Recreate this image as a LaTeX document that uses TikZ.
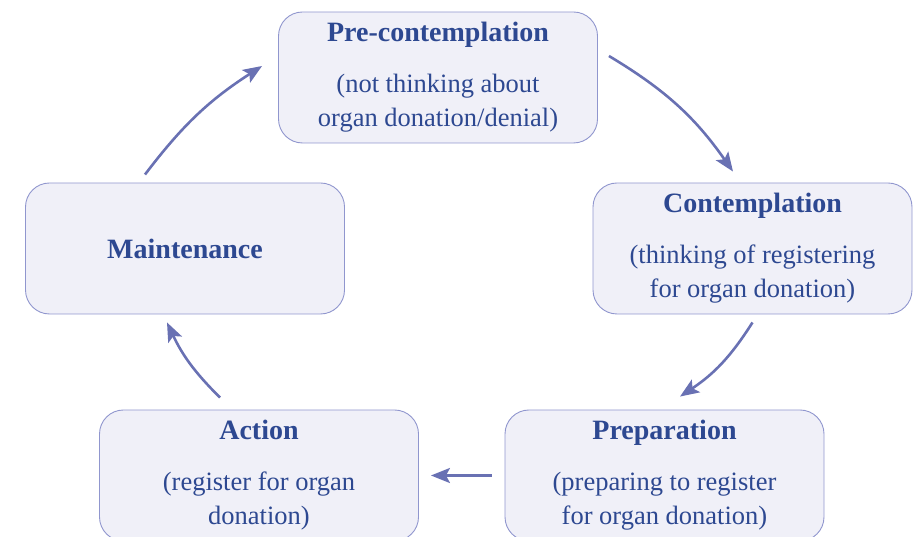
\documentclass[tikz,border=0pt]{standalone}
\usepackage{fontspec}
\setmainfont{Liberation Serif}
\usepackage{xcolor}
\usetikzlibrary{arrows.meta,positioning,calc}

\definecolor{stagetext}{HTML}{2D4891}
\definecolor{stagefill}{HTML}{F0F0F8}
\definecolor{stageline}{HTML}{9096CE}
\definecolor{arrowblue}{HTML}{6971B3}

\newcommand{\stagetitle}[1]{{\fontsize{28}{34}\selectfont\bfseries #1}}

\begin{document}
\begin{tikzpicture}[x=1pt, y=1pt,
    stage/.style={rectangle, draw=stageline, line width=0.9pt, rounded corners=24pt, fill=stagefill,
        minimum width=319pt, minimum height=131pt, text=stagetext, align=center,
        font=\fontsize{26.5}{34}\selectfont},
    arr/.style={-{Stealth[length=19pt, width=15pt, inset=4pt]}, line width=2.6pt, color=arrowblue}
]
    \clip (0,0) rectangle (918,537);
    \useasboundingbox (0,0) rectangle (918,537);

    % five stages, clockwise from the top
    \node[stage] (precon) at (438,459.5)   {\stagetitle{Pre-contemplation}\\[17pt](not thinking about\\organ donation/denial)};
    \node[stage] (contem) at (752.5,288.5) {\stagetitle{Contemplation}\\[17pt](thinking of registering\\for organ donation)};
    \node[stage] (prep)   at (664.5,61.5)  {\stagetitle{Preparation}\\[17pt](preparing to register\\for organ donation)};
    \node[stage] (action) at (259,61.5)    {\stagetitle{Action}\\[17pt](register for organ\\donation)};
    \node[stage] (maint)  at (185,288.5)   {\stagetitle{Maintenance}};

    % cycle arrows
    \draw[arr] ([xshift=11pt,yshift=21.5pt]precon.east) to[bend left=12] ([xshift=-19.5pt,yshift=11pt]contem.north);
    \draw[arr] ([yshift=-8pt]contem.south) to[bend left=12] ([xshift=15.5pt,yshift=13pt]prep.north);
    \draw[arr] ([xshift=-13pt]prep.west) -- ([xshift=12pt]action.east);
    \draw[arr] ([xshift=-39pt,yshift=12pt]action.north) to[bend left=10] ([xshift=-18pt,yshift=-8pt]maint.south);
    \draw[arr] ([xshift=-40pt,yshift=8pt]maint.north) to[bend left=10] ([xshift=-16pt,yshift=11.5pt]precon.west);

\end{tikzpicture}
\end{document}
